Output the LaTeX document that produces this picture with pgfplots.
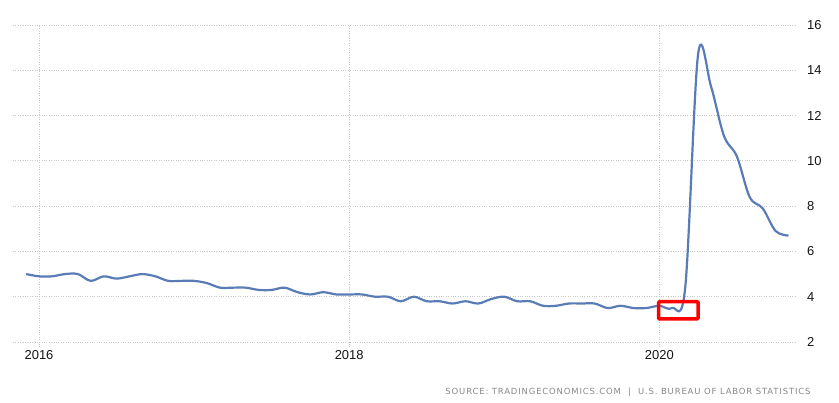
\documentclass[border=0pt]{standalone}
\usepackage{pgfplots}
\pgfplotsset{compat=1.18}
\usepackage{fontspec}
\setmainfont{Liberation Sans}
\newfontfamily\srcfont[LetterSpace=10]{DejaVu Sans}
\definecolor{teLine}{RGB}{89,124,182}
\definecolor{teGrid}{RGB}{200,200,200}
\definecolor{teText}{RGB}{20,20,20}
\definecolor{teSource}{RGB}{135,135,135}

\begin{document}
\begin{tikzpicture}[x=1bp,y=1bp]
\begin{axis}[
  at={(0,0)}, anchor=south west,
  scale only axis, width=784bp, height=317bp,
  xmin=2015.832, xmax=2020.888, ymin=2, ymax=16,
  xtick={2016,2018,2020}, xticklabels={2016,2018,2020},
  ytick={2,4,...,16}, yticklabels={2,4,6,8,10,12,14,16},
  xtick pos=bottom, ytick pos=right, yticklabel pos=right,
  tick align=outside, major tick length=4bp,
  tick style={teGrid, dotted, line width=0.8bp},
  y tick style={draw=none},
  axis line style={draw=none},
  grid=major,
  grid style={teGrid, dotted, line width=0.8bp},
  tick label style={font=\fontsize{13}{14}\selectfont, text=teText, inner sep=0pt},
  yticklabel style={anchor=west, xshift=6bp},
  xticklabel style={anchor=north, yshift=-4bp},
  clip=false,
]
\addplot[teLine, line width=2.2bp, smooth, tension=0.55] coordinates {
  (2015.917,5.0)
  (2016.000,4.9) (2016.083,4.9) (2016.167,5.0) (2016.250,5.0)
  (2016.333,4.7) (2016.417,4.9) (2016.500,4.8) (2016.583,4.9)
  (2016.667,5.0) (2016.750,4.9) (2016.833,4.7) (2016.917,4.7)
  (2017.000,4.7) (2017.083,4.6) (2017.167,4.4) (2017.250,4.4)
  (2017.333,4.4) (2017.417,4.3) (2017.500,4.3) (2017.583,4.4)
  (2017.667,4.2) (2017.750,4.1) (2017.833,4.2) (2017.917,4.1)
  (2018.000,4.1) (2018.083,4.1) (2018.167,4.0) (2018.250,4.0)
  (2018.333,3.8) (2018.417,4.0) (2018.500,3.8) (2018.583,3.8)
  (2018.667,3.7) (2018.750,3.8) (2018.833,3.7) (2018.917,3.9)
  (2019.000,4.0) (2019.083,3.8) (2019.167,3.8) (2019.250,3.6)
  (2019.333,3.6) (2019.417,3.7) (2019.500,3.7) (2019.583,3.7)
  (2019.667,3.5) (2019.750,3.6) (2019.833,3.5) (2019.917,3.5)
  (2020.000,3.6) (2020.083,3.5) (2020.167,4.4) (2020.250,14.7)
  (2020.333,13.3) (2020.417,11.1) (2020.500,10.2) (2020.583,8.4)
  (2020.667,7.9) (2020.750,6.9) (2020.833,6.7)
};
\draw[red, line width=3.5bp, rounded corners=1bp]
  (axis cs:2019.995,3.02) rectangle (axis cs:2020.25,3.78);
\end{axis}
\node[anchor=east, inner sep=0pt, text=teSource,
      font=\srcfont\fontsize{8.5}{8.5}\selectfont] at (797.7,-50.7)
  {SOURCE: TRADINGECONOMICS.COM \ | \ U.S. BUREAU OF LABOR STATISTICS};
\pgfresetboundingbox
\path (-13,-60) rectangle (826,342);
\end{tikzpicture}
\end{document}
